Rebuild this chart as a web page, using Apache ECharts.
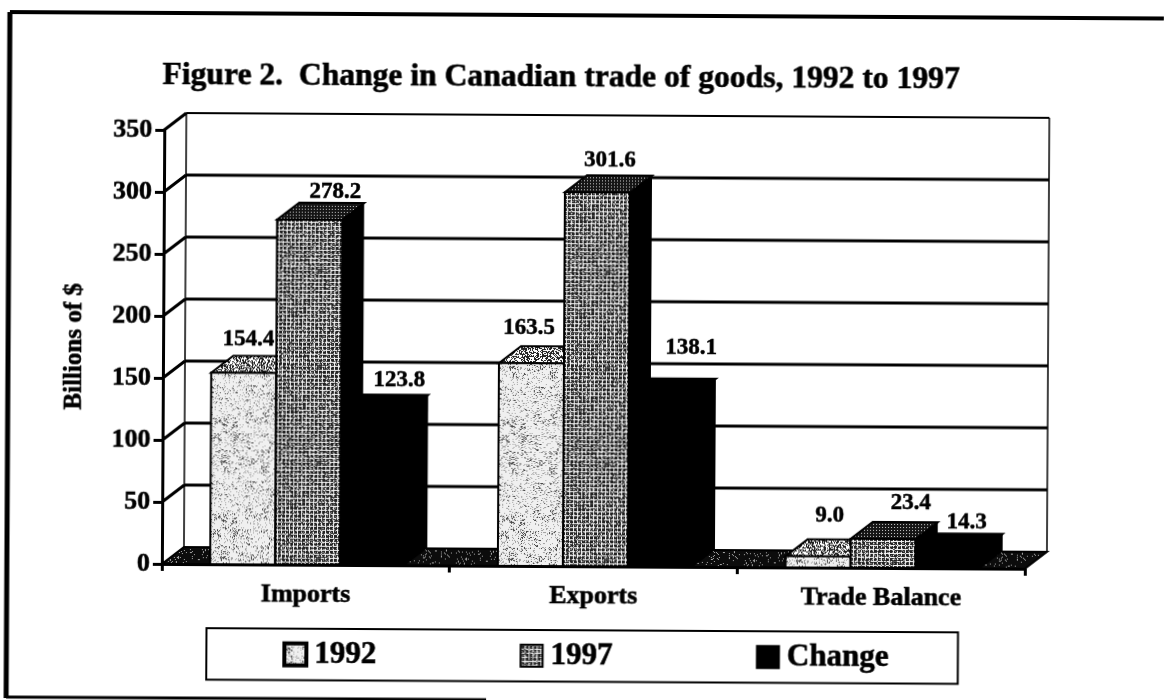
<!DOCTYPE html>
<html>
<head>
<meta charset="utf-8">
<title>Figure 2</title>
<script src="https://cdn.jsdelivr.net/npm/echarts@6/dist/echarts.min.js"></script>
<style>
html,body{margin:0;padding:0;background:#fff;overflow:hidden}
/* the scanned page sits a little crooked */
#chart{width:1164px;height:700px;transform-origin:0 0;transform:rotate(0.32deg)}
</style>
</head>
<body>
<div id="chart"></div>
<script>
var titleText = 'Figure 2.  Change in Canadian trade of goods, 1992 to 1997';
var categories = ['Imports', 'Exports', 'Trade Balance'];
var seriesNames = ['1992', '1997', 'Change'];
var values1992 = [154.4, 163.5, 9.0];
var values1997 = [278.2, 301.6, 23.4];
var valuesChange = [123.8, 138.1, 14.3];
var yTicks = [0, 50, 100, 150, 200, 250, 300, 350];

// label placement: x from the bar's left edge, y above the back of the bar top
var labelX = [[37, 30, 44], [58, 45, 60], [58, 62, 51]];
var labelY = [[16, 18, 24], [11, 15, 19], [14, 31, 11]];

var FONT = '"Liberation Serif", serif';
var DX = 22, DY = -17;
// the scan makes all the print look heavier
var HEAVY = {textBorderColor: '#000', textBorderWidth: 0.6};

// deterministic speckle
function hash(x, y) {
	var s = Math.sin(x * 12.9898 + y * 78.233) * 43758.5453;
	return s - Math.floor(s);
}
function texture(fn) {
	var c = document.createElement('canvas');
	c.width = c.height = 96;
	var g = c.getContext('2d');
	for (var x = 0; x < 96; x++) {
		for (var y = 0; y < 96; y++) {
			g.fillStyle = fn(x, y);
			g.fillRect(x, y, 1, 1);
		}
	}
	return {image: c, repeat: 'repeat'};
}
var fill1992 = texture(function (x, y) {
	var n = hash(x, y) + 0.3 * hash(x >> 3, y >> 3);
	return n > 0.36 ? '#f0f0f0' : (n > 0.2 ? '#a0a0a0' : '#444444');
});
var top1992 = texture(function (x, y) {
	return hash(x, y) > 0.5 ? '#ffffff' : '#222222';
});
var fill1997 = texture(function (x, y) {
	if (x % 4 == 0 || y % 4 == 0) return hash(x, y) > 0.2 ? '#f4f4f4' : '#555555';
	return hash(x, y) > 0.8 ? '#888888' : '#222222';
});
var top1997 = texture(function (x, y) {
	return (x % 3 == 0 && y % 3 == 0) ? '#cccccc' : '#151515';
});
var floorFill = texture(function (x, y) {
	return hash(x, y) > 0.93 ? '#aaaaaa' : '#0c0c0c';
});
var fills = [fill1992, fill1997, '#000000'];
var tops = [top1992, top1997, '#000000'];
var sides = ['#000000', '#000000', '#000000'];

function poly(points, fill, stroke, lw) {
	return {
		type: 'polygon',
		shape: {points: points},
		style: {fill: fill, stroke: stroke || null, lineWidth: lw || 0}
	};
}
function seg(x1, y1, x2, y2, lw) {
	return {
		type: 'line',
		shape: {x1: x1, y1: y1, x2: x2, y2: y2},
		style: {stroke: '#000', lineWidth: lw}
	};
}

function renderWall(params, api) {
	var cs = params.coordSys;
	var v = api.value(1);
	var y = api.coord([0, v])[1];
	var kids = [];
	if (params.dataIndex == 0) {
		// floor, back wall edges
		kids.push(poly([[cs.x, y], [cs.x + DX, y + DY], [cs.x + cs.width + DX, y + DY], [cs.x + cs.width, y]], floorFill, '#000', 2));
		kids.push(seg(cs.x + DX, y + DY, cs.x + DX, cs.y + DY, 1.5));
		kids.push(seg(cs.x + cs.width + DX, y + DY, cs.x + cs.width + DX, cs.y + DY, 1.5));
	} else {
		kids.push(seg(cs.x, y, cs.x + DX, y + DY, 3));
		kids.push(seg(cs.x + DX, y + DY, cs.x + cs.width + DX, y + DY, v == 350 ? 2 : 3));
	}
	return {type: 'group', children: kids};
}

function makeRenderBar(s) {
	return function (params, api) {
		var i = api.value(0);
		var val = api.value(1);
		var band = api.size([1, 0])[0];
		var w = band * 0.226;
		var center = api.coord([i, 0])[0] + 2;
		var x = center - 1.5 * w + s * w;
		var y0 = api.coord([i, 0])[1];
		var y1 = api.coord([i, val])[1];
		var kids = [
			// side, top, front
			poly([[x + w, y0], [x + w + DX, y0 + DY], [x + w + DX, y1 + DY], [x + w, y1]], sides[s]),
			poly([[x, y1], [x + DX, y1 + DY], [x + w + DX, y1 + DY], [x + w, y1]], tops[s], '#000', 2),
			poly([[x, y0], [x, y1], [x + w, y1], [x + w, y0]], fills[s], '#000', 2),
			{
				type: 'text',
				z2: 20,
				style: {
					x: x + labelX[s][i],
					y: y1 + DY - labelY[s][i],
					text: val.toFixed(1),
					align: 'center',
					verticalAlign: 'middle',
					fill: '#000',
					stroke: '#000',
					lineWidth: 0.5,
					font: 'bold 23px ' + FONT
				}
			}
		];
		return {type: 'group', children: kids};
	};
}

function toData(arr) {
	return arr.map(function (v, i) { return [i, v]; });
}

var myChart = echarts.init(document.getElementById('chart'));
myChart.setOption({
	animation: false,
	backgroundColor: '#fff',
	title: {
		text: titleText,
		left: 158,
		top: 54,
		textStyle: Object.assign({fontFamily: FONT, fontWeight: 'bold', fontSize: 31.6, color: '#000'}, HEAVY)
	},
	legend: {
		left: 210,
		top: 627,
		data: [
			{name: seriesNames[0], itemStyle: {color: fill1992, borderColor: '#000', borderWidth: 4}},
			{name: seriesNames[1], itemStyle: {color: fill1997, borderColor: '#000', borderWidth: 2}},
			{name: seriesNames[2], itemStyle: {color: '#000', borderColor: '#000', borderWidth: 2}}
		],
		orient: 'horizontal',
		padding: [10, 69, 10, 76],
		itemGap: 143,
		itemWidth: 22,
		itemHeight: 22,
		borderColor: '#000',
		borderWidth: 2,
		icon: 'rect',
		textStyle: Object.assign({
			fontFamily: FONT, fontWeight: 'bold', fontSize: 31, lineHeight: 31, color: '#000',
			padding: [0, 0, 0, 3]
		}, HEAVY)
	},
	grid: {left: 165, top: 129, width: 863, height: 434},
	xAxis: {
		type: 'category',
		data: categories,
		axisLine: {lineStyle: {color: '#000', width: 3}},
		axisTick: {show: true, length: 7, lineStyle: {color: '#000', width: 3}},
		axisLabel: Object.assign({
			margin: 17, color: '#000', interval: 0,
			fontFamily: FONT, fontWeight: 'bold', fontSize: 26
		}, HEAVY),
		splitLine: {show: false}
	},
	yAxis: {
		type: 'value',
		min: 0,
		max: 350,
		interval: 50,
		name: 'Billions of $',
		nameLocation: 'middle',
		nameGap: 76,
		nameRotate: 90,
		nameTextStyle: Object.assign({fontFamily: FONT, fontWeight: 'bold', fontSize: 25, color: '#000'}, HEAVY),
		axisLine: {show: true, lineStyle: {color: '#000', width: 3}},
		axisTick: {show: true, length: 9, lineStyle: {color: '#000', width: 3}},
		axisLabel: Object.assign({margin: 12, color: '#000', fontFamily: FONT, fontWeight: 'bold', fontSize: 26}, HEAVY),
		splitLine: {show: false}
	},
	graphic: [
		{type: 'line', shape: {x1: 10, y1: 12, x2: 1180, y2: 12}, style: {stroke: '#000', lineWidth: 4}},
		{type: 'line', shape: {x1: 10, y1: 12, x2: 10, y2: 698}, style: {stroke: '#000', lineWidth: 5}},
		{type: 'line', shape: {x1: 10, y1: 697, x2: 490, y2: 697}, style: {stroke: '#000', lineWidth: 3}}
	],
	series: [
		{
			type: 'custom', name: 'wall', silent: true, z: 1,
			data: yTicks.map(function (v) { return [0, v]; }),
			renderItem: renderWall, encode: {x: 0, y: 1}
		},
		{
			type: 'custom', name: seriesNames[0], z: 2,
			data: toData(values1992), renderItem: makeRenderBar(0), encode: {x: 0, y: 1},
			itemStyle: {color: fill1992}
		},
		{
			type: 'custom', name: seriesNames[1], z: 3,
			data: toData(values1997), renderItem: makeRenderBar(1), encode: {x: 0, y: 1},
			itemStyle: {color: fill1997}
		},
		{
			type: 'custom', name: seriesNames[2], z: 4,
			data: toData(valuesChange), renderItem: makeRenderBar(2), encode: {x: 0, y: 1},
			itemStyle: {color: '#000'}
		}
	]
});
</script>
</body>
</html>
